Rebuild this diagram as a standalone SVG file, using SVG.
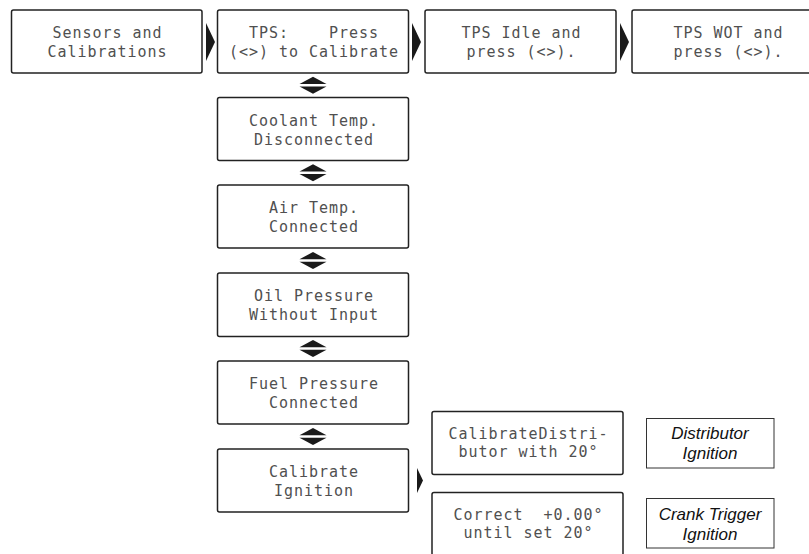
<svg xmlns="http://www.w3.org/2000/svg" width="809" height="554" viewBox="0 0 809 554" xml:space="preserve">
<style>
.box{fill:#fff;stroke:#222;stroke-width:1.5}
.lbl{fill:#fff;stroke:#333;stroke-width:1}
.lcd{font-family:"DejaVu Sans Mono","Liberation Mono",monospace;font-size:15px;letter-spacing:0.97px;fill:#505050;text-anchor:middle;white-space:pre}
.it{font-family:"Liberation Sans",Arial,sans-serif;font-style:italic;font-size:17px;fill:#111;text-anchor:middle}
.tri{fill:#1a1a1a}
</style>
<defs>
<g id="dbl"><polygon points="-13.5,-1.2 0,-8.5 13.5,-1.2"/><polygon points="-13.5,1.2 0,8.5 13.5,1.2"/></g>
</defs>
<rect width="809" height="554" fill="#fff"/>
<g id="connectors" class="tri">
<polygon points="206,23 215,42 206,61"/>
<polygon points="412,23 421,42 412,61"/>
<polygon points="620,23 629,42 620,61"/>
<polygon points="417,468 423,480.5 417,493"/>
<use href="#dbl" x="313" y="85.3"/>
<use href="#dbl" x="313" y="172.8"/>
<use href="#dbl" x="313" y="260.5"/>
<use href="#dbl" x="313" y="348.5"/>
<use href="#dbl" x="313" y="436.5"/>
</g>
<g id="n-sensors"><rect class="box" x="11.5" y="10" width="190.5" height="63" rx="2"/>
<text class="lcd" x="107.5" y="38">Sensors and</text><text class="lcd" x="107.5" y="57">Calibrations</text></g>
<g id="n-tps"><rect class="box" x="217.5" y="10" width="191" height="63" rx="2"/>
<text class="lcd" x="314" y="38">TPS:    Press</text><text class="lcd" x="314" y="57">(&lt;&gt;) to Calibrate</text></g>
<g id="n-idle"><rect class="box" x="425" y="10" width="191" height="63" rx="2"/>
<text class="lcd" x="521.5" y="38">TPS Idle and</text><text class="lcd" x="521.5" y="57">press (&lt;&gt;).</text></g>
<g id="n-wot"><rect class="box" x="632" y="10" width="191" height="63" rx="2"/>
<text class="lcd" x="728.5" y="38">TPS WOT and</text><text class="lcd" x="728.5" y="57">press (&lt;&gt;).</text></g>
<g id="n-coolant"><rect class="box" x="217.5" y="97.5" width="191" height="63" rx="2"/>
<text class="lcd" x="314" y="125.5">Coolant Temp.</text><text class="lcd" x="314" y="144.5">Disconnected</text></g>
<g id="n-air"><rect class="box" x="217.5" y="185" width="191" height="63" rx="2"/>
<text class="lcd" x="314" y="213">Air Temp.</text><text class="lcd" x="314" y="232">Connected</text></g>
<g id="n-oil"><rect class="box" x="217.5" y="273" width="191" height="63.5" rx="2"/>
<text class="lcd" x="314" y="301">Oil Pressure</text><text class="lcd" x="314" y="320">Without Input</text></g>
<g id="n-fuel"><rect class="box" x="217.5" y="361" width="191" height="63" rx="2"/>
<text class="lcd" x="314" y="389">Fuel Pressure</text><text class="lcd" x="314" y="408">Connected</text></g>
<g id="n-ign"><rect class="box" x="217.5" y="449" width="191" height="63" rx="2"/>
<text class="lcd" x="314" y="477">Calibrate</text><text class="lcd" x="314" y="496">Ignition</text></g>
<g id="n-dist"><rect class="box" x="432" y="411.5" width="191" height="63" rx="2"/>
<text class="lcd" x="528.5" y="439">CalibrateDistri-</text><text class="lcd" x="528.5" y="457">butor with 20°</text></g>
<g id="n-correct"><rect class="box" x="432" y="492.5" width="191" height="63" rx="2"/>
<text class="lcd" x="528.5" y="520">Correct  +0.00°</text><text class="lcd" x="528.5" y="538">until set 20°</text></g>
<g id="n-lbl-dist"><rect class="lbl" x="646.5" y="418.5" width="127.5" height="49.5"/>
<text class="it" x="710" y="439">Distributor</text><text class="it" x="710" y="459">Ignition</text></g>
<g id="n-lbl-crank"><rect class="lbl" x="646.5" y="498.5" width="127.5" height="49.5"/>
<text class="it" x="710" y="520">Crank Trigger</text><text class="it" x="710" y="540">Ignition</text></g>
</svg>
